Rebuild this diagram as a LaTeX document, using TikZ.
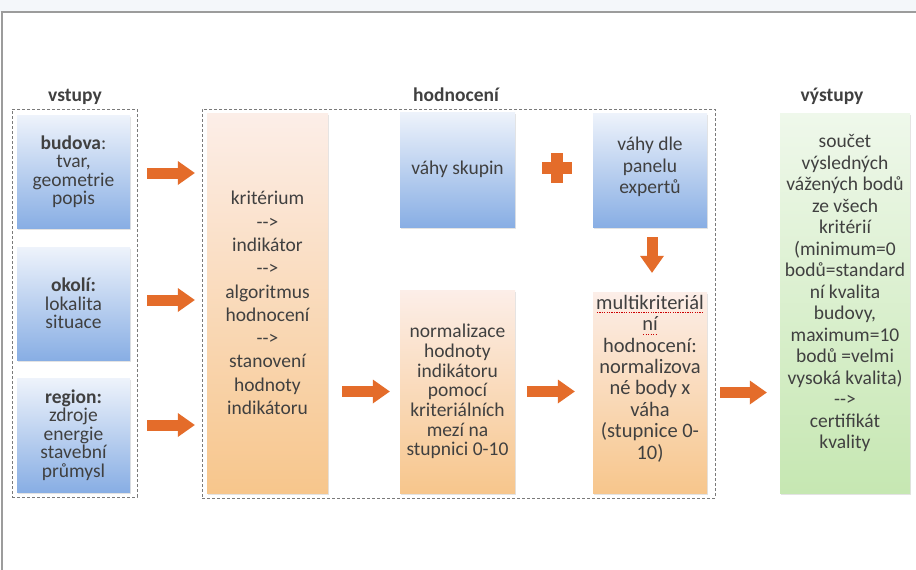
\documentclass[tikz,border=0pt]{standalone}
\usepackage{fontspec}
\setmainfont{Carlito}
\usetikzlibrary{arrows.meta,shadows}
\definecolor{txt}{HTML}{404040}
\definecolor{arrc}{HTML}{E46C2A}
\definecolor{bluetop}{HTML}{EEF3FB}
\definecolor{bluebot}{HTML}{88AEE4}
\definecolor{ortop}{HTML}{FCEEE8}
\definecolor{orbot}{HTML}{F7C68C}
\definecolor{grtop}{HTML}{EFF8EB}
\definecolor{grbot}{HTML}{C6E7B2}
\definecolor{dashc}{HTML}{7A7A7A}
\definecolor{framec}{HTML}{9C9C9C}
\definecolor{bgtop}{HTML}{F4F7FA}
\newcommand\myarr{-\kern0pt-\kern0pt>}
\newcommand\redwave[1]{\setbox0\hbox{#1}\rlap{\color{red!80!black}\raisebox{-4pt}{\hbox to \wd0{\xleaders\hbox to 2.4pt{\hss\rule{1.3pt}{0.9pt}\hss}\hfill}}}\box0}
\begin{document}
\begin{tikzpicture}[x=1pt,y=-1pt,
  every node/.style={text=txt},
  boxbase/.style={inner sep=0pt, align=center, drop shadow={shadow xshift=1.2pt, shadow yshift=-1.5pt, opacity=0.22}},
  bluebox/.style={boxbase, top color=bluetop, bottom color=bluebot},
  orbox/.style={boxbase, top color=ortop, bottom color=orbot},
  grbox/.style={boxbase, top color=grtop, bottom color=grbot},
  fs/.style={font=\fontsize{19.5}{#1}\selectfont},
  boxtext/.style={inner sep=0pt, align=center},
  dashbox/.style={draw=dashc, line width=0.8pt, dash pattern=on 3pt off 2pt, inner sep=0pt},
  title/.style={font=\fontsize{19.5}{23}\selectfont\bfseries, anchor=base},
  barrow/.style={draw=arrc, line width=11pt, -{Triangle[length=17pt 0 0, width=24pt 0 0, line width=0pt 0 0]}}
]
\useasboundingbox (0,0) rectangle (916,570);
\fill[white] (0,0) rectangle (916,570);
\fill[bgtop] (0,0) rectangle (916,12);
\draw[framec, line width=1.2pt] (2,570) -- (2,12) -- (916,12);

% dashed groups
\node[dashbox, minimum width=125pt, minimum height=388pt] (ingrp) at (74.5,303) {};
\node[dashbox, minimum width=513pt, minimum height=389pt] (evgrp) at (458.5,303.5) {};

% titles
\node[title] (tin) at (75,101) {vstupy};
\node[title] (tev) at (456,101) {hodnocení};
\node[title] (tout) at (832,101) {výstupy};

% inputs
\node[bluebox, fs=18.5, minimum width=113pt, minimum height=113pt] (budova) at (73.5,171.5)
  {{\bfseries budova}:\\tvar,\\geometrie\\popis};
\node[bluebox, fs=18.5, minimum width=113pt, minimum height=113pt] (okoli) at (73.5,303.5)
  {{\bfseries okolí:}\\lokalita\\situace};
\node[bluebox, fs=18.5, minimum width=113pt, minimum height=114pt] (region) at (73.5,435)
  {{\bfseries region:}\\zdroje\\energie\\stavební\\průmysl};

% evaluation
\node[orbox, fs=23.3, minimum width=121pt, minimum height=380pt] (krit) at (267.5,303)
  {kritérium\\\myarr\\indikátor\\\myarr\\algoritmus\\hodnocení\\\myarr\\stanovení\\hodnoty\\indikátoru};
\node[bluebox, fs=21, minimum width=115pt, minimum height=115pt] (skupin) at (457.5,169.5)
  {váhy skupin};
\node[orbox, fs=19.7, minimum width=115pt, minimum height=203pt] (norm) at (457.5,391.5)
  {normalizace\\hodnoty\\indikátoru\\pomocí\\kriteriálních\\mezí na\\stupnici 0-10};
\node[bluebox, minimum width=114pt, minimum height=114pt] (panel) at (650,170) {};
\node[boxtext, fs=21.5] (panelT) at ([yshift=3pt]panel.center)
  {váhy dle\\panelu\\expertů};
\node[orbox, minimum width=114pt, minimum height=201pt] (multi) at (650,392.5) {};
\node[boxtext, font=\fontsize{20.5}{21.4}\selectfont] (multiT) at ([yshift=14pt]multi.center)
  {\redwave{multikriteriál}\\\redwave{ní}\\hodnocení:\\normalizova\\né body x\\váha\\(stupnice 0-\\10)};

% output
\node[grbox, minimum width=130pt, minimum height=380pt] (vyst) at (845,303) {};
\node[boxtext, fs=21.5] (vystT) at ([yshift=10pt]vyst.center)
  {součet\\výsledných\\vážených bodů\\ze všech\\kritérií\\(minimum=0\\bodů=standard\\ní kvalita\\budovy,\\maximum=10\\bodů =velmi\\vysoká kvalita)\\\myarr\\certifikát\\kvality};

% plus sign
\node[inner sep=0pt, minimum size=30pt] (plus) at (557,168) {};
\fill[arrc] ([xshift=-15pt,yshift=-6pt]plus.center) rectangle ([xshift=15pt,yshift=6pt]plus.center);
\fill[arrc] ([xshift=-6pt,yshift=-15pt]plus.center) rectangle ([xshift=6pt,yshift=15pt]plus.center);

% arrows
\draw[barrow, shorten <=17pt, shorten >=12pt] ([yshift=-1.5pt]budova.east) -- ([yshift=-1.5pt]budova.east -| krit.west);
\draw[barrow, shorten <=17pt, shorten >=12pt] ([yshift=3.5pt]okoli.east) -- ([yshift=3.5pt]okoli.east -| krit.west);
\draw[barrow, shorten <=17pt, shorten >=12pt] ([yshift=10pt]region.east) -- ([yshift=10pt]region.east -| krit.west);
\draw[barrow, shorten <=14pt, shorten >=10pt] (krit.east |- norm.west) -- (norm.west);
\draw[barrow, shorten <=12pt, shorten >=18pt] (norm.east) -- (norm.east -| multi.west);
\draw[barrow, shorten <=13pt, shorten >=13pt] (multi.east) -- (multi.east -| vyst.west);
\draw[barrow, shorten <=10pt, shorten >=19pt] ([xshift=2pt]panel.south) -- ([xshift=2pt]multi.north);
\end{tikzpicture}
\end{document}
